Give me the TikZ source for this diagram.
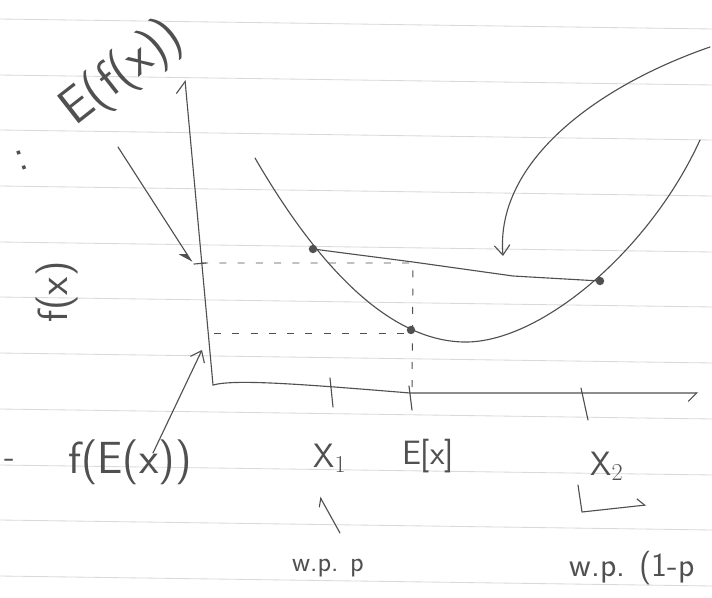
\documentclass[tikz,border=0pt]{standalone}
\usepackage{tikz}
\usetikzlibrary{arrows.meta, positioning, calc}
\definecolor{inkcolor}{RGB}{80, 80, 80}
\definecolor{rulecolor}{RGB}{218, 218, 218}
\tikzstyle{ink} = [draw=inkcolor, line width=0.8pt, line cap=round, line join=round]
\tikzstyle{guide} = [draw=inkcolor, line width=0.7pt, dash pattern=on 5pt off 8pt]
\tikzstyle{paperline} = [draw=rulecolor, line width=0.6pt]
\tikzstyle{dot} = [circle, fill=inkcolor, inner sep=0pt, minimum size=6pt]
\tikzstyle{hand} = [text=inkcolor, inner sep=1pt, font=\sffamily\fontsize{24}{28}\selectfont]
\tikzstyle{bighand} = [text=inkcolor, inner sep=1pt, font=\sffamily\fontsize{32}{36}\selectfont]
\tikzstyle{smallhand} = [text=inkcolor, inner sep=1pt, font=\sffamily\fontsize{20}{24}\selectfont]
\tikzstyle{arrow} = [ink, -{Straight Barb[length=7pt, width=11pt]}]

\begin{document}
\begin{tikzpicture}[x=0.025cm, y=-0.025cm]
\useasboundingbox (0,0) rectangle (712,598);
\fill[white] (0,0) rectangle (712,598);

% Paper
\foreach \y in {19,75,130,186,242,297,353,409,465,520,576}
  \draw[paperline] (0,\y) -- (712,\y+10);

% Coordinates
\coordinate (origin) at (213,385);
\coordinate (ytop) at (185,80);
\coordinate (xend) at (698,393);
\coordinate (ytick) at (192,262);
\coordinate (ychord) at (201,263);
\coordinate (cmid) at (413,263);
\coordinate (extick) at (412,393);
\coordinate (yfex) at (214,333);
\coordinate (ylow) at (202,350);
\coordinate (chordpt) at (503,256);
\coordinate (efxtail) at (118,147);
\coordinate (fextail) at (153,453);
\coordinate (bigtail) at (710,47);

% Axes
\draw[ink, -{Straight Barb[left, length=8pt, width=14pt]}] (origin) -- (ytop);
\draw[ink, -{Straight Barb[right, length=6pt, width=12pt]}] (origin) .. controls (235,379) and (300,384) .. (410,393) -- (xend);
\draw[ink] (330,378) -- (333,407);
\draw[ink] (409,386) -- (412,410);
\draw[ink] (581,388) -- (588,420);
\draw[ink] (194,264) -- (206,263);

% Dashed guides
\draw[guide] (ychord) -- (cmid) -- (extick);
\draw[guide] (yfex) -- (411,333);

% Curve and chord
\draw[ink] (255,158) .. controls (320,270) and (390,340) .. (463,342)
  .. controls (540,344) and (650,250) .. (700,140);
\draw[ink] (313,249) -- (413,262) -- (513,276) -- (600,281);
\node[dot] (fx1) at (313,249) {};
\node[dot] (fex) at (411,330) {};
\node[dot] (fx2) at (600,281) {};

% Labels
\node[bighand, rotate=38, font=\sffamily\fontsize{36}{40}\selectfont] (efx) at (122,74) {E(f(x))};
\node[bighand, rotate=90, font=\sffamily\fontsize{30}{34}\selectfont] (fx) at (57,292) {f(x)};
\node[bighand] (fexl) at (130,462) {f(E(x))};
\node[hand] (dash) at (10,463) {-};
\node[bighand, rotate=20] (dots) at (22,160) {:};
\node[hand] (x1) at (330,458) {X$_1$};
\node[hand] (ex) at (428,456) {E[x]};
\node[hand] (x2) at (607,466) {X$_2$};
\node[smallhand] (wp1) at (328,568) {w.p. p};
\node[hand, anchor=west] (wp2) at (568,568) {w.p. (1-p};

% Arrows
\draw[ink, -{Stealth[right, length=9pt, width=10pt]}] (efxtail) -- (ytick);
\draw[arrow] (fextail) -- (ylow);
\draw[arrow] (bigtail) .. controls (600,85) and (495,160) .. (chordpt);
\draw[ink, -{Straight Barb[left, length=5pt, width=8pt]}] (340,533) -- (320,497);
\draw[ink, -{Straight Barb[left, length=5pt, width=10pt]}] (578,485) -- (582,512) -- (646,505);

\end{tikzpicture}
\end{document}
